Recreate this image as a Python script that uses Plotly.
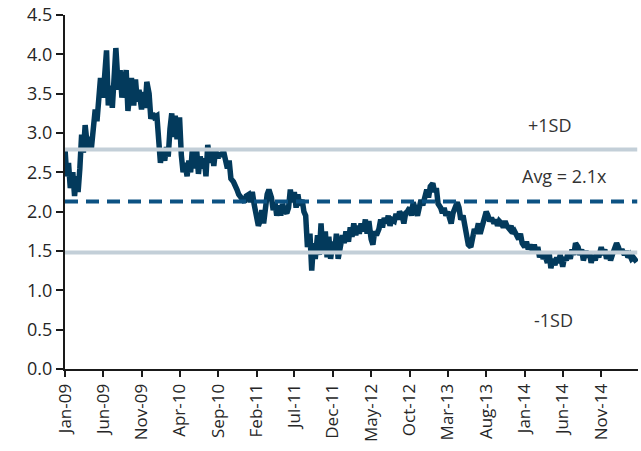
import pandas as pd
import plotly.graph_objects as go

# ---- data ----
months = pd.date_range("2009-01-01", "2015-03-01", freq="MS")
week_days = [1, 8, 15, 22]
values_by_month = [
    [2.80, 2.45, 2.62, 2.30],  # Jan-09
    [2.50, 2.20, 2.45, 2.25],
    [2.55, 2.98, 2.75, 3.10],
    [2.80, 2.95, 2.78, 3.05],
    [3.30, 3.15, 3.40, 3.70],
    [3.45, 3.75, 4.05, 3.35],
    [3.60, 3.32, 3.70, 4.08],
    [3.55, 3.80, 3.45, 3.62],
    [3.80, 3.28, 3.50, 3.70],
    [3.35, 3.68, 3.40, 3.55],
    [3.30, 3.52, 3.32, 3.65],
    [3.50, 3.18, 3.25, 3.20],
    [3.22, 2.95, 2.62, 2.78],  # Jan-10
    [2.65, 2.82, 2.70, 3.05],
    [3.25, 2.95, 3.22, 2.92],
    [3.20, 2.72, 2.50, 2.62],
    [2.45, 2.65, 2.50, 2.80],
    [2.55, 2.78, 2.48, 2.70],
    [2.55, 2.68, 2.45, 2.85],
    [2.62, 2.80, 2.58, 2.78],
    [2.68, 2.75, 2.70, 2.78],
    [2.62, 2.55, 2.65, 2.42],
    [2.38, 2.30, 2.28, 2.22],
    [2.18, 2.15, 2.12, 2.20],
    [2.22, 2.12, 2.25, 2.10],  # Jan-11
    [1.95, 1.82, 1.88, 2.02],
    [1.85, 2.05, 2.22, 2.28],
    [2.18, 2.02, 2.12, 1.95],
    [2.08, 1.95, 2.10, 2.02],
    [1.98, 2.05, 2.28, 2.12],
    [2.25, 2.05, 2.22, 2.08],
    [2.15, 2.00, 1.95, 1.55],
    [1.72, 1.25, 1.60, 1.40],
    [1.70, 1.45, 1.85, 1.50],
    [1.75, 1.42, 1.68, 1.40],
    [1.62, 1.48, 1.72, 1.40],
    [1.55, 1.70, 1.60, 1.75],  # Jan-12
    [1.62, 1.80, 1.68, 1.85],
    [1.70, 1.82, 1.72, 1.85],
    [1.75, 1.90, 1.72, 1.88],
    [1.65, 1.58, 1.75, 1.70],
    [1.78, 1.90, 1.80, 1.92],
    [1.85, 1.95, 1.82, 1.90],
    [1.88, 1.97, 1.90, 2.00],
    [1.95, 1.85, 1.98, 2.00],
    [2.05, 1.95, 2.12, 2.02],
    [1.95, 2.05, 2.15, 2.08],
    [2.20, 2.28, 2.18, 2.32],
    [2.36, 2.25, 2.30, 2.10],  # Jan-13
    [2.05, 1.98, 2.05, 1.95],
    [2.00, 1.92, 1.85, 1.98],
    [2.08, 2.12, 2.05, 1.90],
    [1.95, 1.82, 1.72, 1.58],
    [1.55, 1.70, 1.78, 1.72],
    [1.85, 1.72, 1.80, 1.92],
    [2.00, 1.95, 1.88, 1.92],
    [1.85, 1.90, 1.82, 1.88],
    [1.85, 1.80, 1.88, 1.82],
    [1.78, 1.82, 1.72, 1.75],
    [1.70, 1.65, 1.72, 1.60],
    [1.55, 1.62, 1.52, 1.58],  # Jan-14
    [1.50, 1.58, 1.48, 1.55],
    [1.42, 1.48, 1.40, 1.45],
    [1.35, 1.48, 1.28, 1.40],
    [1.32, 1.42, 1.35, 1.45],
    [1.30, 1.42, 1.38, 1.48],
    [1.40, 1.52, 1.45, 1.60],
    [1.55, 1.45, 1.52, 1.38],
    [1.50, 1.42, 1.48, 1.35],
    [1.45, 1.38, 1.48, 1.42],
    [1.55, 1.45, 1.52, 1.40],
    [1.48, 1.38, 1.45, 1.52],
    [1.60, 1.55, 1.48, 1.52],  # Jan-15
    [1.45, 1.50, 1.42, 1.45],
    [1.40, 1.42, 1.38, 1.36],  # Mar-15
]

plus_sd = 2.79
average = 2.13
minus_sd = 1.48

tick_dates = pd.date_range("2009-01-01", "2014-11-01", freq="5MS")
tick_labels = ["Jan-09", "Jun-09", "Nov-09", "Apr-10", "Sep-10", "Feb-11", "Jul-11",
               "Dec-11", "May-12", "Oct-12", "Mar-13", "Aug-13", "Jan-14", "Jun-14", "Nov-14"]

labels = ["+1SD", "Avg = 2.1x", "-1SD"]
label_y = [3.10, 2.45, 0.62]
label_x = pd.to_datetime(["2014-04-10", "2014-06-10", "2014-04-25"])

# ---- build series ----
dates = []
vals = []
for m, row in zip(months, values_by_month):
    for d, v in zip(week_days, row):
        dates.append(m + pd.Timedelta(days=d - 1))
        vals.append(v)

x_start = pd.Timestamp("2009-01-01")
x_end = pd.Timestamp("2015-03-27")

fig = go.Figure()
fig.add_trace(go.Scatter(x=dates, y=vals, mode="lines",
                         line=dict(color="#033a5c", width=5.5), hoverinfo="skip"))
for val, col, dash in [(plus_sd, "#c3cfd8", "solid"), (minus_sd, "#c3cfd8", "solid"),
                       (average, "#0c5283", "13px,8px")]:
    fig.add_trace(go.Scatter(x=[x_start, x_end - pd.Timedelta(days=3)], y=[val, val], mode="lines",
                             line=dict(color=col, width=4, dash=dash), hoverinfo="skip"))

for t, xx, yy in zip(labels, label_x, label_y):
    fig.add_annotation(x=xx, y=yy, text=t, showarrow=False,
                       font=dict(size=18, color="#333333"))

fig.update_layout(
    width=641, height=451,
    margin=dict(l=65, r=3, t=15, b=82),
    paper_bgcolor="white", plot_bgcolor="white",
    showlegend=False,
    font=dict(family="Open Sans", size=17, color="#262626"),
)
fig.update_xaxes(
    range=[x_start, x_end], tickvals=tick_dates, ticktext=tick_labels,
    tickangle=-90, showgrid=False, zeroline=False,
    showline=True, linecolor="#1a1a1a", linewidth=2,
    ticks="outside", ticklen=6, tickwidth=2, tickcolor="#1a1a1a",
    tickfont=dict(size=17),
)
fig.update_yaxes(
    range=[0, 4.5], tickvals=[0, 0.5, 1, 1.5, 2, 2.5, 3, 3.5, 4, 4.5],
    ticktext=["0.0", "0.5", "1.0", "1.5", "2.0", "2.5", "3.0", "3.5", "4.0", "4.5"],
    showgrid=False, zeroline=False,
    showline=True, linecolor="#1a1a1a", linewidth=2,
    ticks="outside", ticklen=7, tickwidth=2, tickcolor="#1a1a1a",
    tickfont=dict(size=18),
)

fig.write_html("out.html")
